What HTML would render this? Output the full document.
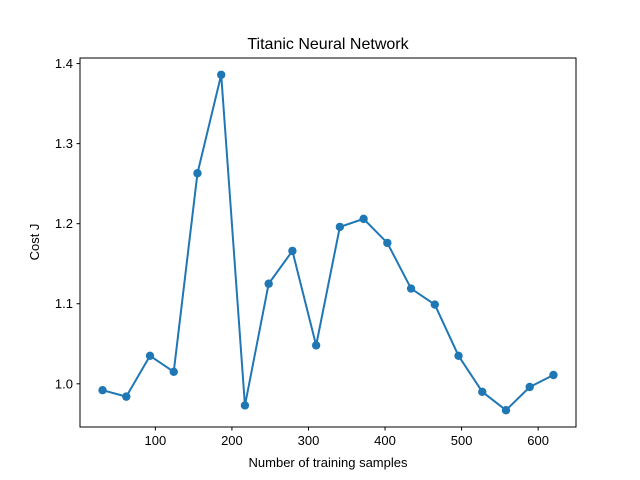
<!DOCTYPE html>
<html><head><meta charset="utf-8">
<style>
html,body{margin:0;padding:0;background:#fff;}
svg{display:block;font-family:"Liberation Sans","DejaVu Sans",sans-serif;}
</style></head>
<body>
<svg id="chart" width="640" height="480" viewBox="0 0 640 480">
<rect width="640" height="480" fill="#fff"/>
<text x="328" y="49" text-anchor="middle" font-size="16">Titanic Neural Network</text>
<g id="plot"></g>
<rect x="80" y="58" width="496" height="369" fill="none" stroke="#000" stroke-width="1"/>
<text x="328" y="467" text-anchor="middle" font-size="13">Number of training samples</text>
<text transform="translate(39,242) rotate(-90)" text-anchor="middle" font-size="13">Cost J</text>
</svg>
<script>
const xValues = [31,62,93,124,155,186,217,248,279,310,341,372,403,434,465,496,527,558,589,620];
const costValues = [0.992,0.984,1.035,1.015,1.263,1.386,0.973,1.125,1.166,1.048,1.196,1.206,1.176,1.119,1.099,1.035,0.990,0.967,0.996,1.011];
const xTicks = [100,200,300,400,500,600];
const yTicks = [1.0,1.1,1.2,1.3,1.4];
const yTickLabels = ["1.0","1.1","1.2","1.3","1.4"];

const L=80,R=576,T=58,B=427;
const xmin=Math.min(...xValues),xmax=Math.max(...xValues);
const ymin=Math.min(...costValues),ymax=Math.max(...costValues);
const x0=xmin-(xmax-xmin)*0.05,x1=xmax+(xmax-xmin)*0.05;
const y0=ymin-(ymax-ymin)*0.05,y1=ymax+(ymax-ymin)*0.05;
const sx=v=>L+(v-x0)/(x1-x0)*(R-L);
const sy=v=>B-(v-y0)/(y1-y0)*(B-T);
const NS="http://www.w3.org/2000/svg";
const g=document.getElementById('plot');
function mk(tag,attrs){const e=document.createElementNS(NS,tag);for(const k in attrs)e.setAttribute(k,attrs[k]);g.appendChild(e);return e;}

xTicks.forEach(t=>{
  const X=sx(t);
  const tk=mk('line',{x1:X,x2:X,y1:B,y2:B+3.5,stroke:'#000'});
  
  
  const lb=mk('text',{x:X,y:B+18,'text-anchor':'middle','font-size':'13'});
  lb.textContent=t;
  
  
});
yTicks.forEach((t,i)=>{
  const Y=sy(t);
  const tk=mk('line',{x1:L-3.5,x2:L,y1:Y,y2:Y,stroke:'#000'});
  
  
  const lb=mk('text',{x:L-7,y:Y+4.5,'text-anchor':'end','font-size':'13'});
  lb.textContent=yTickLabels[i];
  
  
});
const pts=xValues.map((v,i)=>sx(v)+','+sy(costValues[i])).join(' ');
const line=mk('polyline',{points:pts,fill:'none',stroke:'#1f77b4','stroke-width':'2','stroke-linejoin':'round'});


xValues.forEach((v,i)=>{
  const c=mk('circle',{cx:sx(v),cy:sy(costValues[i]),r:4.2,fill:'#1f77b4'});
  
  
});
</script>
</body></html>
